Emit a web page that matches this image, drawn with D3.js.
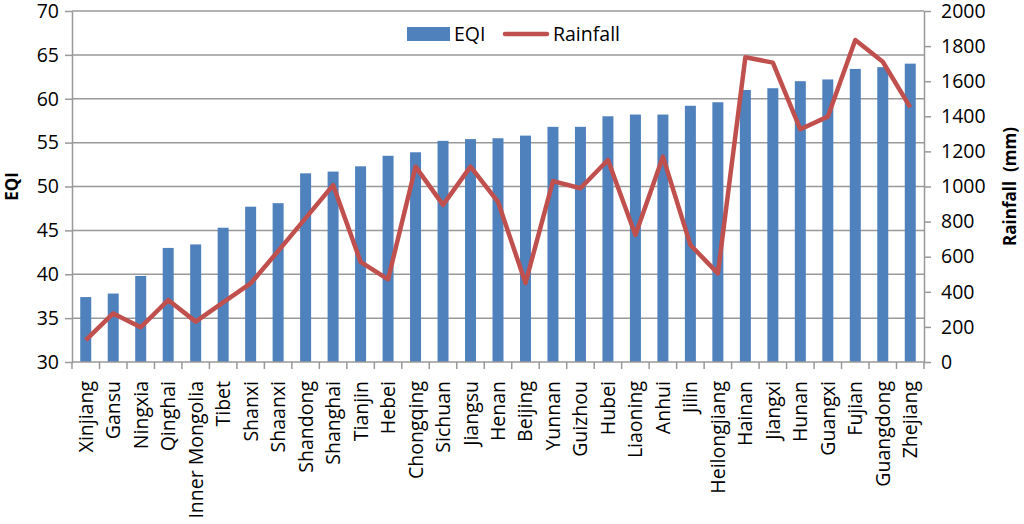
<!DOCTYPE html>
<html lang="en">
<head>
  <meta charset="UTF-8">
  <title>EQI and Rainfall by Province</title>
  <script src="https://d3js.org/d3.v7.min.js"></script>
  <style>
    body {
      margin: 0;
      background-color: #fff;
      font-family: "Open Sans", Arial, sans-serif;
    }
    .tick-label {
      font-size: 19.5px;
      fill: #000;
    }
    .axis-title {
      font-size: 17px;
      font-weight: bold;
      fill: #000;
    }
  </style>
</head>
<body>
<svg id="chart" width="1024" height="524"></svg>

<script>
  // Data
  const provinces = ["Xinjiang", "Gansu", "Ningxia", "Qinghai", "Inner Mongolia", "Tibet", "Shanxi",
    "Shaanxi", "Shandong", "Shanghai", "Tianjin", "Hebei", "Chongqing", "Sichuan", "Jiangsu", "Henan",
    "Beijing", "Yunnan", "Guizhou", "Hubei", "Liaoning", "Anhui", "Jilin", "Heilongjiang", "Hainan",
    "Jiangxi", "Hunan", "Guangxi", "Fujian", "Guangdong", "Zhejiang"];
  const eqi = [37.4, 37.8, 39.8, 43.0, 43.4, 45.3, 47.7, 48.1, 51.5, 51.7, 52.3, 53.5, 53.9, 55.2, 55.4,
    55.5, 55.8, 56.8, 56.8, 58.0, 58.2, 58.2, 59.2, 59.6, 61.0, 61.2, 62.0, 62.2, 63.4, 63.6, 64.0];
  const rainfall = [125, 277, 198, 353, 230, 340, 448, 632, 820, 1008, 571, 471, 1113, 895, 1113,
    913, 450, 1031, 990, 1151, 724, 1170, 667, 505, 1736, 1706, 1326, 1398, 1835, 1711, 1451];
  const eqiTicks = [30, 35, 40, 45, 50, 55, 60, 65, 70];
  const rainTicks = [0, 200, 400, 600, 800, 1000, 1200, 1400, 1600, 1800, 2000];

  const plotL = 72, plotR = 924, plotT = 11, plotB = 362;
  const gray = "#999";
  const svg = d3.select("#chart");

  const x = d3.scaleBand().domain(provinces).range([plotL, plotR]).paddingInner(0.6).paddingOuter(0.3);
  const step = x.step();
  const yL = d3.scaleLinear().domain([30, 70]).range([plotB, plotT]);
  const yR = d3.scaleLinear().domain([0, 2000]).range([plotB, plotT]);

  // gridlines
  svg.append("g").selectAll("line")
    .data(eqiTicks.slice(1))
    .enter().append("line")
    .attr("x1", plotL).attr("x2", plotR)
    .attr("y1", d => yL(d)).attr("y2", d => yL(d))
    .attr("stroke", gray).attr("stroke-width", 1.5);

  // bars
  svg.append("g").selectAll("rect")
    .data(provinces)
    .enter().append("rect")
    .attr("x", d => x(d))
    .attr("width", x.bandwidth())
    .attr("y", (d, i) => yL(eqi[i]))
    .attr("height", (d, i) => plotB - yL(eqi[i]))
    .attr("fill", "#4f81bd");

  // left axis
  const axL = svg.append("g").attr("transform", `translate(${plotL},0)`)
    .call(d3.axisLeft(yL).tickValues(eqiTicks).tickSize(7).tickSizeOuter(0).tickPadding(6));
  axL.select(".domain").attr("stroke", gray).attr("stroke-width", 1.5);
  axL.selectAll(".tick line").attr("stroke", gray).attr("stroke-width", 1.5);
  axL.attr("font-family", null).attr("font-size", null);
  axL.selectAll(".tick text").attr("class", "tick-label");

  // right axis
  const axR = svg.append("g").attr("transform", `translate(${plotR},0)`)
    .call(d3.axisRight(yR).tickValues(rainTicks).tickFormat(d3.format("d"))
      .tickSize(7).tickSizeOuter(0).tickPadding(10));
  axR.select(".domain").attr("stroke", gray).attr("stroke-width", 1.5);
  axR.selectAll(".tick line").attr("stroke", gray).attr("stroke-width", 1.5);
  axR.attr("font-family", null).attr("font-size", null);
  axR.selectAll(".tick text").attr("class", "tick-label");

  // bottom axis
  svg.append("line")
    .attr("x1", plotL).attr("x2", plotR).attr("y1", plotB).attr("y2", plotB)
    .attr("stroke", gray).attr("stroke-width", 1.5);
  const bounds = d3.range(provinces.length + 1).map(i => plotL + i * step);
  svg.append("g").selectAll("line")
    .data(bounds)
    .enter().append("line")
    .attr("x1", d => d).attr("x2", d => d)
    .attr("y1", plotB).attr("y2", plotB + 7)
    .attr("stroke", gray).attr("stroke-width", 1.5);

  svg.append("g").selectAll("text")
    .data(provinces)
    .enter().append("text")
    .attr("class", "tick-label")
    .attr("text-anchor", "end")
    .attr("transform", d => `translate(${x(d) + x.bandwidth() / 2 + 7},${plotB + 19}) rotate(-90)`)
    .text(d => d);

  // rainfall line
  const line = d3.line()
    .x((d, i) => x(provinces[i]) + x.bandwidth() / 2)
    .y(d => yR(d));
  svg.append("path")
    .datum(rainfall)
    .attr("d", line)
    .attr("fill", "none")
    .attr("stroke", "#c0504d")
    .attr("stroke-width", 4.5)
    .attr("stroke-linejoin", "round");

  // axis titles
  svg.append("text").attr("class", "axis-title")
    .attr("text-anchor", "middle")
    .attr("transform", `translate(18,${(plotT + plotB) / 2}) rotate(-90)`)
    .text("EQI");
  svg.append("text").attr("class", "axis-title")
    .attr("text-anchor", "middle")
    .attr("transform", `translate(1016,${(plotT + plotB) / 2}) rotate(-90)`)
    .text("Rainfall\u00a0 (mm)");

  // legend
  const lg = svg.append("g");
  lg.append("rect").attr("x", 407).attr("y", 27).attr("width", 43).attr("height", 14).attr("fill", "#4f81bd");
  lg.append("text").attr("class", "tick-label").attr("x", 454).attr("y", 41).text("EQI");
  lg.append("line").attr("x1", 505).attr("x2", 547).attr("y1", 34).attr("y2", 34)
    .attr("stroke", "#c0504d").attr("stroke-width", 4.5).attr("stroke-linecap", "round");
  lg.append("text").attr("class", "tick-label").attr("x", 553).attr("y", 41).text("Rainfall");
</script>
</body>
</html>
